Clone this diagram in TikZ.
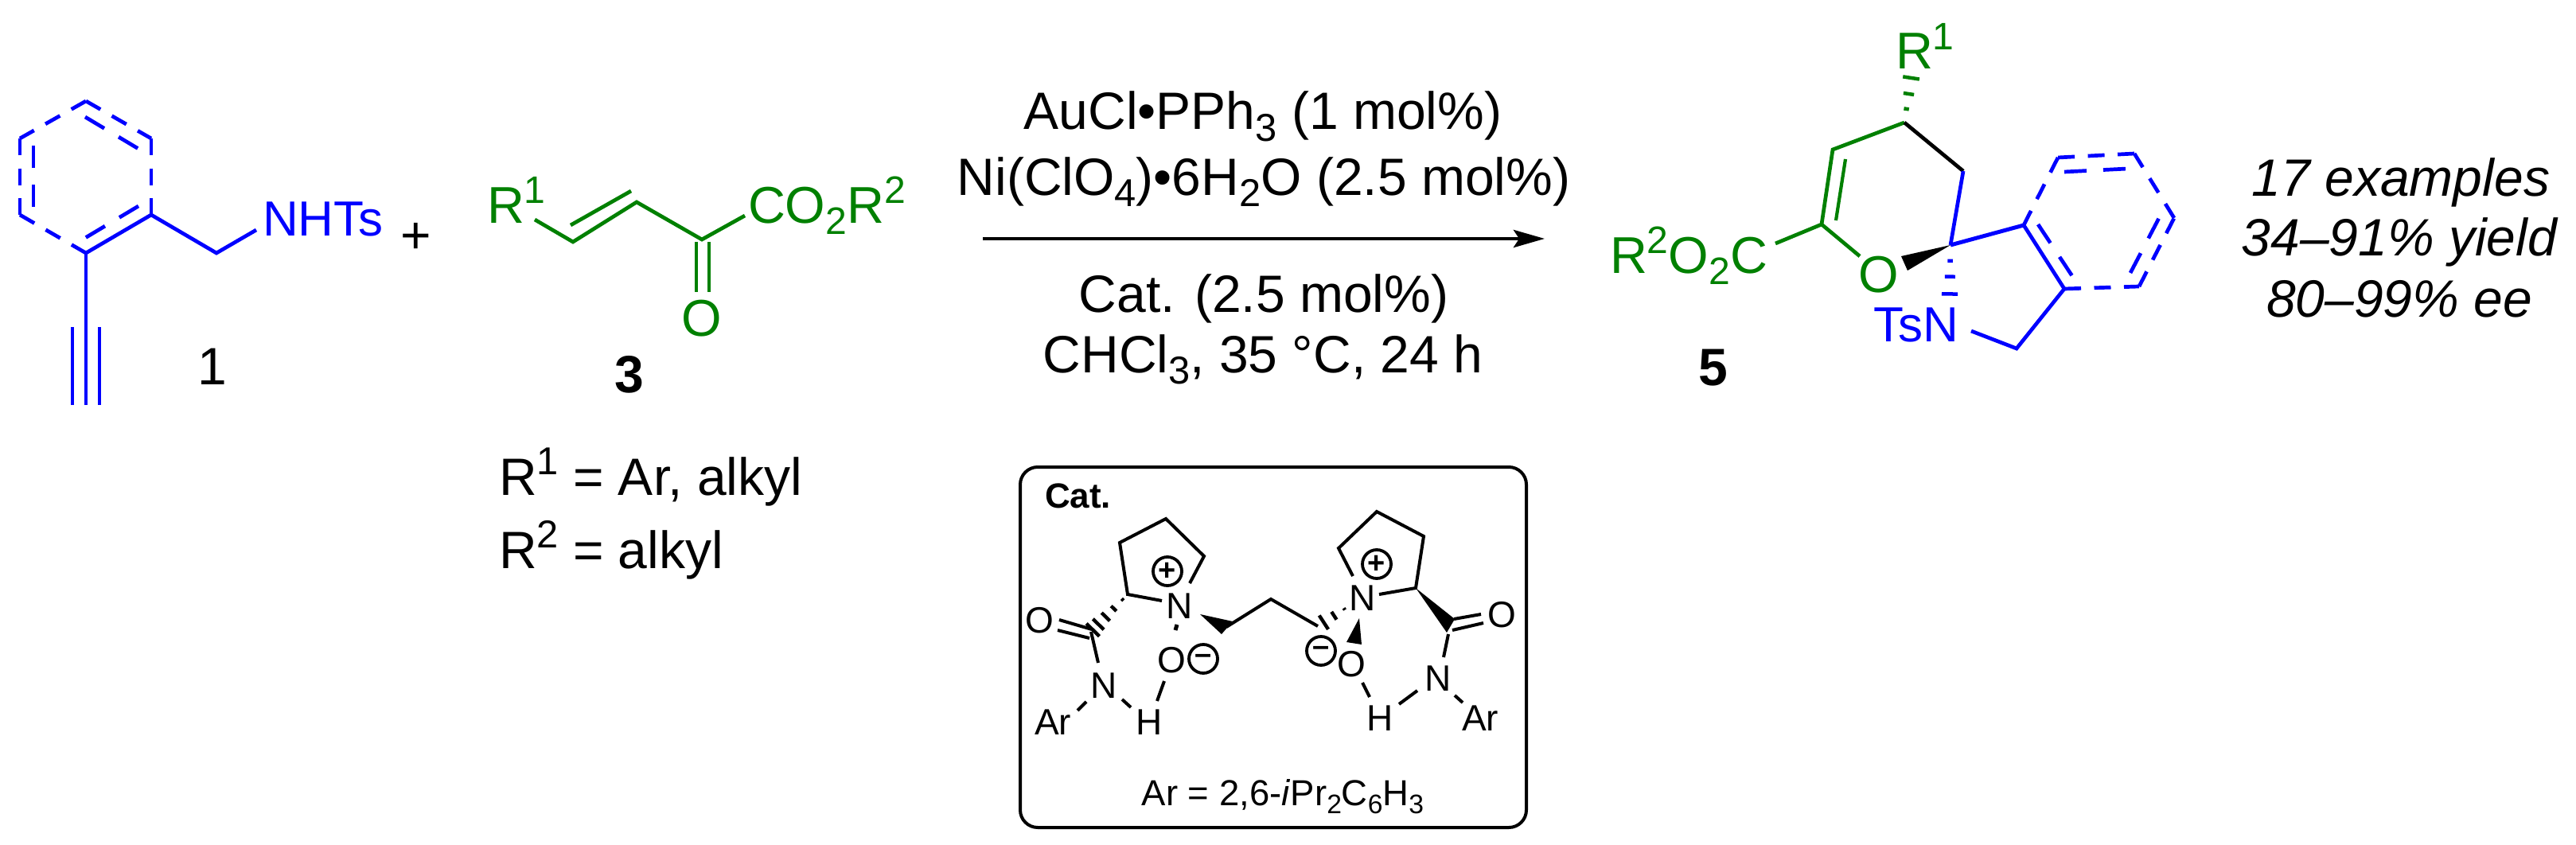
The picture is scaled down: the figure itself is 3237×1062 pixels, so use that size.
\documentclass[tikz,border=0pt]{standalone}
\usepackage{fontspec}
\setmainfont{Liberation Sans}
\usetikzlibrary{calc,arrows.meta}
\definecolor{cblue}{RGB}{0,0,255}
\definecolor{cgreen}{RGB}{0,128,0}
\newcommand\chemsup[1]{\raisebox{.38em}{\scalebox{.74}{#1}}}
\newcommand\chemsub[1]{\raisebox{-.22em}{\scalebox{.74}{#1}}}
\newcommand\hashbond[5][]{\foreach \t in {#4}{\pgfmathsetmacro\hw{\t*#5}
  \draw[#1] ($(#2)!\t!(#3)!\hw pt!90:(#3)$) -- ($(#2)!\t!(#3)!\hw pt!-90:(#3)$);}}
\tikzset{
 bond/.style={line width=4.7pt,line join=miter},
 dbond/.style={line width=4.7pt,dash pattern=on 21pt off 16.5pt},
 dinner/.style={line width=4.7pt,dash pattern=on 28pt off 21pt},
 catb/.style={line width=4pt,line join=miter},
 lab/.style={inner sep=0pt,outer sep=0pt,font=\fontsize{66}{80}\selectfont},
 chem/.style={inner sep=0pt,outer sep=0pt,font=\fontsize{65}{80}\selectfont},
 chemn/.style={inner sep=0pt,outer sep=0pt,font=\fontsize{62}{80}\selectfont},
 sm/.style={inner sep=0pt,outer sep=0pt,font=\fontsize{46}{52}\selectfont},
 chg/.style={circle,draw,line width=3.8pt,minimum size=36pt,inner sep=0pt,font=\fontsize{38}{38}\selectfont\bfseries},
}
\begin{document}
\begin{tikzpicture}[x=1pt,y=-1pt]
\useasboundingbox (0,0) rectangle (3237,1062);
\fill[white] (0,0) rectangle (3237,1062);
% ---------- compound 1
\begin{scope}[cblue,draw=cblue]
\coordinate (a1) at (108,127); \coordinate (a2) at (190,174); \coordinate (a3) at (190,270);
\coordinate (a4) at (108,318); \coordinate (a5) at (25,270); \coordinate (a6) at (25,174);
\coordinate (a7) at (272,318); \coordinate (a8) at (322,289);
\coordinate (a9) at (108,411); \coordinate (a10) at (108,509);
\coordinate (a11) at (91,411); \coordinate (a12) at (91,509);
\coordinate (a13) at (125,411); \coordinate (a14) at (125,509);
\draw[bond] (a4) -- (a3) -- (a7) -- (a8);
\draw[bond] (a4) -- (a10);
\draw[bond] (a11) -- (a12); \draw[bond] (a13) -- (a14);
\draw[dbond] (a1) -- (a2); \draw[dbond] (a2) -- (a3);
\draw[dbond] (a1) -- (a6); \draw[dbond] (a6) -- (a5); \draw[dbond] (a5) -- (a4);
\coordinate (i1) at (107,147); \coordinate (i2) at (174,187);
\coordinate (i3) at (42,183); \coordinate (i4) at (42,262);
\coordinate (i5) at (174,259); \coordinate (i6) at (107,299);
\draw[dinner] (i1) -- (i2); \draw[dinner] (i3) -- (i4); \draw[dinner] (i5) -- (i6);
\node[chemn,anchor=base west] (nhts) at (330,296) {NHTs};
\end{scope}
\node[lab,anchor=base] (lab1) at (267,483) {1};
\node[lab,anchor=center] (plus) at (523,299) {+};
% ---------- compound 3
\begin{scope}[cgreen,draw=cgreen]
\coordinate (b1) at (672,276); \coordinate (b2) at (720,304); \coordinate (b3) at (800,254);
\coordinate (b4) at (882,301); \coordinate (b5) at (936,271);
\coordinate (b6) at (717,283); \coordinate (b7) at (793,240);
\coordinate (b8) at (875,304); \coordinate (b9) at (875,367);
\coordinate (b10) at (891,304); \coordinate (b11) at (891,367);
\draw[bond] (b1) -- (b2) -- (b3) -- (b4) -- (b5);
\draw[bond] (b6) -- (b7); \draw[bond] (b8) -- (b9); \draw[bond] (b10) -- (b11);
\node[chem,anchor=base west] (r1a) at (612,280) {R\chemsup{1}};
\node[chem,anchor=base west] (co2r) at (940,280) {CO\chemsub{2}R\chemsup{2}};
\node[chem,anchor=center] (o3) at (882,400) {O};
\end{scope}
\node[lab,anchor=center,font=\fontsize{66}{80}\selectfont\bfseries] (lab3) at (791,471) {3};
\node[lab,anchor=base west] (rdef1) at (627,622) {R\chemsup{1} = Ar, alkyl};
\node[lab,anchor=base west] (rdef2) at (627,714) {R\chemsup{2} = alkyl};
% ---------- conditions
\node[lab,anchor=base] (c1) at (1587,163) {AuCl•PPh\chemsub{3} (1 mol\%)};
\node[lab,anchor=base] (c2) at (1588,245) {Ni(ClO\chemsub{4})•6H\chemsub{2}O (2.5 mol\%)};
\node[lab,anchor=base] (c3) at (1588,392) {Cat. (2.5 mol\%)};
\node[lab,anchor=base] (c4) at (1587,468) {CHCl\chemsub{3}, 35 °C, 24 h};
\coordinate (ar1) at (1235,300); \coordinate (ar2) at (1941,300);
\draw[line width=4.7pt,-{Stealth[length=39pt,width=22pt,inset=7pt]}] (ar1) -- (ar2);
% ---------- product 5
\coordinate (p1) at (2393,154); \coordinate (p2) at (2303,188); \coordinate (p3) at (2289,282);
\coordinate (p4) at (2231,306); \coordinate (p5) at (2337,322); \coordinate (p6) at (2467,215);
\coordinate (p7) at (2451,308); \coordinate (p8) at (2402,95);
\coordinate (p9) at (2319,200); \coordinate (p10) at (2307,277);
\coordinate (w1) at (2389,322); \coordinate (w2) at (2397,340);
\coordinate (s1) at (2543,283); \coordinate (s2) at (2594,363); \coordinate (s3) at (2688,360);
\coordinate (s4) at (2732,274); \coordinate (s5) at (2682,193); \coordinate (s6) at (2586,198);
\coordinate (s7) at (2534,438); \coordinate (s8) at (2477,416); \coordinate (s9) at (2450,372);
\begin{scope}[cgreen,draw=cgreen]
\draw[bond] (p1) -- (p2) -- (p3) -- (p4);
\draw[bond] (p3) -- (p5);
\draw[line width=4.2pt] (p9) -- (p10);
\hashbond[line width=4.5pt]{p1}{p8}{.29,.61,.95}{11}
\node[chem,anchor=base west] (r1p) at (2382,87) {R\chemsup{1}};
\node[chem,anchor=base west] (estr) at (2023,343) {R\chemsup{2}O\chemsub{2}C};
\node[chem,anchor=center] (op) at (2361,345) {O};
\end{scope}
\draw[bond,black] (p1) -- (p6);
\begin{scope}[cblue,draw=cblue]
\draw[bond] (p6) -- (p7);
\draw[line width=5pt] (p7) -- (s1);
\draw[bond] (s1) -- (s2) -- (s7) -- (s8);
\draw[dbond] (s2) -- (s3); \draw[dbond] (s3) -- (s4); \draw[dbond] (s4) -- (s5);
\draw[dbond] (s5) -- (s6); \draw[dbond] (s6) -- (s1);
\coordinate (j1) at (2561,282); \coordinate (j2) at (2604,347);
\coordinate (j3) at (2677,343); \coordinate (j4) at (2713,274);
\coordinate (j5) at (2594,216); \coordinate (j6) at (2673,212);
\draw[dinner] (j1) -- (j2); \draw[dinner] (j3) -- (j4); \draw[dinner] (j5) -- (j6);
\hashbond[line width=4.5pt]{p7}{s9}{.31,.62,.96}{10.5}
\node[chemn,anchor=base east] (tsn) at (2461,429) {TsN};
\end{scope}
\fill[black] (p7) -- (w1) -- (w2) -- cycle;
\node[lab,anchor=center,font=\fontsize{66}{80}\selectfont\bfseries] (lab5) at (2153,462) {5};
\node[lab,anchor=base,font=\fontsize{66}{80}\selectfont\itshape] (e1) at (3017,246) {17 examples};
\node[lab,anchor=base,font=\fontsize{66}{80}\selectfont\itshape] (e2) at (3015,321) {34–91\% yield};
\node[lab,anchor=base,font=\fontsize{66}{80}\selectfont\itshape] (e3) at (3015,398) {80–99\% ee};
% ---------- catalyst box
\node[draw,line width=4pt,rounded corners=22pt,minimum width=636pt,minimum height=453pt,inner sep=0pt,anchor=north west] (box) at (1280,585) {};
\node[sm,anchor=base west,font=\fontsize{44}{52}\selectfont\bfseries] (cat) at (1313,638) {Cat.};
\node[sm] (n1) at (1482,762) {N};
\node[chg] (plus1) at (1467,718) {+};
\node[sm] (o1) at (1306,780) {O};
\node[sm] (n2) at (1387,862) {N};
\node[sm] (ar1l) at (1323,908) {Ar};
\node[sm] (h1) at (1444,908) {H};
\node[sm] (o2) at (1472,830) {O};
\node[chg] (minus1) at (1512,828) {–};
\node[sm] (n3) at (1712,752) {N};
\node[chg] (plus2) at (1730,709) {+};
\node[sm] (o3b) at (1698,835) {O};
\node[chg] (minus2) at (1660,818) {–};
\node[sm] (h2) at (1734,903) {H};
\node[sm] (n4) at (1807,853) {N};
\node[sm] (ar2r) at (1860,903) {Ar};
\node[sm] (o4) at (1887,773) {O};
\node[sm,anchor=base,font=\fontsize{45.5}{52}\selectfont] (ardef) at (1612,1012) {Ar = 2,6-\textit{i}Pr\chemsub{2}C\chemsub{6}H\chemsub{3}};
% left half
\coordinate (l1) at (1417,747); \coordinate (l2) at (1407,682); \coordinate (l3) at (1465,652);
\coordinate (l4) at (1513,699); \coordinate (l5) at (1495,733); \coordinate (l6) at (1460,755);
\coordinate (l7) at (1371,794); \coordinate (l8) at (1380,833);
\coordinate (l9) at (1331,779); \coordinate (l10) at (1372,791);
\coordinate (l11) at (1329,792); \coordinate (l12) at (1369,802);
\coordinate (l13) at (1365,882); \coordinate (l14) at (1354,893);
\coordinate (l15) at (1410,879); \coordinate (l16) at (1421,889);
\coordinate (l17) at (1454,881); \coordinate (l18) at (1463,856);
\coordinate (l19) at (1479,785); \coordinate (l20) at (1477,792);
\draw[catb] (l5) -- (l4) -- (l3) -- (l2) -- (l1) -- (l6);
\draw[catb] (l7) -- (l8);
\draw[catb] (l9) -- (l10); \draw[catb] (l11) -- (l12);
\draw[catb] (l13) -- (l14); \draw[catb] (l15) -- (l16); \draw[catb] (l17) -- (l18);
\draw[line width=5pt] (l19) -- (l20);
\hashbond[line width=4.4pt]{l1}{l7}{.14,.38,.6,.8,.95}{12}
% chain
\coordinate (k0) at (1508,772); \coordinate (k1) at (1549,781); \coordinate (k2) at (1535,797);
\coordinate (k3) at (1541,788); \coordinate (k4) at (1597,753); \coordinate (k5) at (1656,787);
\coordinate (k6) at (1693,763);
\fill (k0) -- (k1) -- (k2) -- cycle;
\draw[catb] (k3) -- (k4) -- (k5);
\hashbond[line width=4.4pt]{k6}{k5}{.1,.45,.8,1}{13}
% right half
\coordinate (r1) at (1779,739); \coordinate (r2) at (1789,674); \coordinate (r3) at (1730,643);
\coordinate (r4) at (1682,689); \coordinate (r5) at (1700,724); \coordinate (r6) at (1733,747);
\coordinate (r7) at (1708,777); \coordinate (r8) at (1692,807); \coordinate (r9) at (1711,810);
\coordinate (r10) at (1712,858); \coordinate (r11) at (1721,876);
\coordinate (r12) at (1758,885); \coordinate (r13) at (1781,868);
\coordinate (r14) at (1828,874); \coordinate (r15) at (1838,883);
\coordinate (r16) at (1814,826); \coordinate (r17) at (1820,797);
\coordinate (r18) at (1828,778); \coordinate (r19) at (1818,795);
\coordinate (r20) at (1827,778); \coordinate (r21) at (1861,772);
\coordinate (r22) at (1825,792); \coordinate (r23) at (1864,783);
\draw[catb] (r5) -- (r4) -- (r3) -- (r2) -- (r1) -- (r6);
\fill (r7) -- (r8) -- (r9) -- cycle;
\fill (r1) -- (r18) -- (r19) -- cycle;
\draw[catb] (r10) -- (r11); \draw[catb] (r12) -- (r13); \draw[catb] (r14) -- (r15);
\draw[catb] (r16) -- (r17);
\draw[catb] (r20) -- (r21); \draw[catb] (r22) -- (r23);
\end{tikzpicture}
\end{document}
